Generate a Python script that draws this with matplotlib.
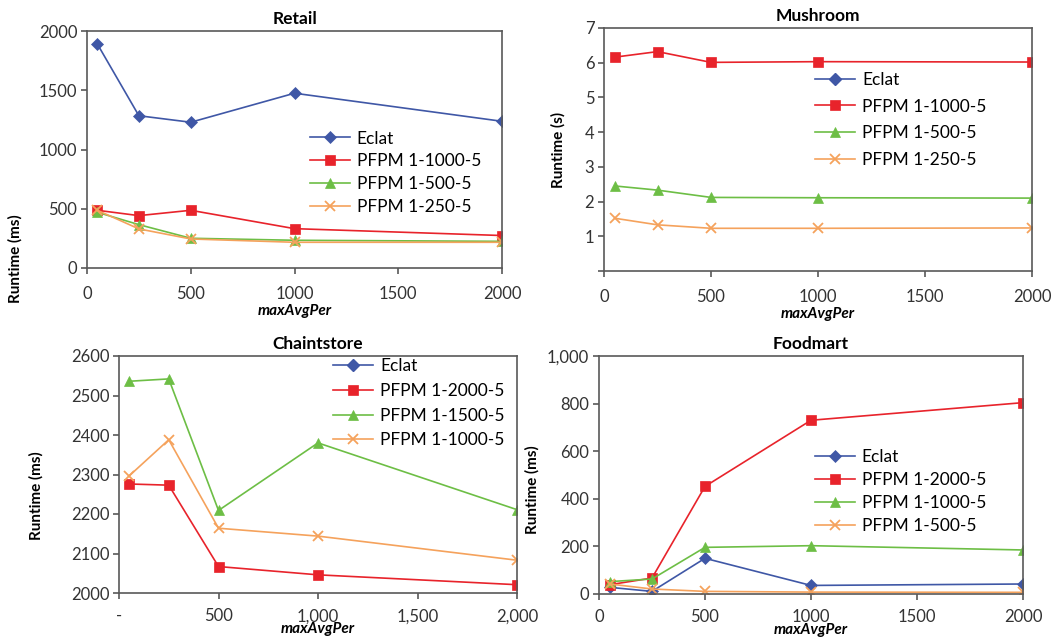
import matplotlib
matplotlib.use('Agg')
import matplotlib.pyplot as plt

plt.rcParams['font.family'] = ['Lato', 'DejaVu Sans']

x = [50, 250, 500, 1000, 2000]

# Retail (ms)
retail_eclat = [1890, 1285, 1230, 1475, 1238]
retail_1000 = [487, 442, 487, 332, 274]
retail_500 = [470, 366, 251, 234, 225]
retail_250 = [487, 330, 245, 217, 217]

# Mushroom (s), Eclat not plotted
mush_1000 = [6.16, 6.32, 6.01, 6.03, 6.02]
mush_500 = [2.45, 2.33, 2.12, 2.11, 2.10]
mush_250 = [1.52, 1.33, 1.23, 1.23, 1.24]

# Chaintstore (ms), Eclat not plotted
chain_2000 = [2276, 2273, 2067, 2046, 2021]
chain_1500 = [2536, 2542, 2209, 2380, 2211]
chain_1000 = [2296, 2388, 2164, 2144, 2083]

# Foodmart (ms)
food_eclat = [28, 11, 150, 36, 42]
food_2000 = [39, 67, 452, 730, 804]
food_1000 = [52, 63, 196, 203, 185]
food_500 = [42, 21, 11, 8, 7]

BLUE = '#3f57a6'
RED = '#e8232b'
GREEN = '#6dbe45'
ORANGE = '#f5a25c'
SPINE = '#595959'

W, H = 1057, 640
fig = plt.figure(figsize=(W / 100, H / 100), dpi=100)


def make_ax(l, r, t, b, xpad=9):
    ax = fig.add_axes([l / W, 1 - b / H, (r - l) / W, (b - t) / H])
    for s in ax.spines.values():
        s.set_color(SPINE)
        s.set_linewidth(1.2)
    ax.tick_params(direction='out', length=4, width=1.2, color=SPINE,
                   labelsize=12, labelcolor='#333333', pad=3)
    ax.tick_params(axis='x', pad=xpad)
    return ax


def series(ax, y, color, marker, ms, label):
    ax.plot(x, y, color=color, marker=marker, markersize=ms, linewidth=1.2,
            label=label, markeredgewidth=1.3 if marker == 'x' else 0.5,
            markeredgecolor=color)


def style(ax, title, ylabel, ylab_pos, legend_pos, spacing, xlpad=1.5):
    ax.set_title(title, fontsize=12.5, fontweight='bold', pad=5)
    ax.set_ylabel(ylabel, fontsize=11, fontweight='bold')
    ax.yaxis.set_label_coords(*ylab_pos)
    ax.set_xlabel('maxAvgPer', fontsize=11, fontweight='bold', style='italic',
                  labelpad=xlpad)
    ax.legend(loc='upper left', bbox_to_anchor=legend_pos, frameon=False,
              fontsize=12.5, borderpad=0, borderaxespad=0, handlelength=2.3,
              handletextpad=0.4, labelspacing=spacing)


# Retail
ax = make_ax(87, 502, 31, 268)
series(ax, retail_eclat, BLUE, 'D', 6, 'Eclat')
series(ax, retail_1000, RED, 's', 7, 'PFPM 1-1000-5')
series(ax, retail_500, GREEN, '^', 7, 'PFPM 1-500-5')
series(ax, retail_250, ORANGE, 'x', 7, 'PFPM 1-250-5')
ax.set_xlim(0, 2000)
ax.set_ylim(0, 2000)
ax.set_xticks([0, 500, 1000, 1500, 2000])
ax.set_yticks([0, 500, 1000, 1500, 2000])
style(ax, 'Retail', 'Runtime (ms)', (-0.155, 0.04), (0.537, 0.58), 0.4)

# Mushroom
ax = make_ax(604, 1032, 28, 271)
ax.plot([], [], color=BLUE, marker='D', markersize=6, linewidth=1.2, label='Eclat')
series(ax, mush_1000, RED, 's', 7, 'PFPM 1-1000-5')
series(ax, mush_500, GREEN, '^', 7, 'PFPM 1-500-5')
series(ax, mush_250, ORANGE, 'x', 7, 'PFPM 1-250-5')
ax.set_xlim(0, 2000)
ax.set_ylim(0, 7)
ax.set_xticks([0, 500, 1000, 1500, 2000])
ax.set_yticks(range(0, 8))
ax.set_yticklabels([''] + [str(v) for v in range(1, 8)])
style(ax, 'Mushroom', 'Runtime (s)', (-0.09, 0.5), (0.493, 0.82), 0.62)

# Chaintstore
ax = make_ax(119, 517, 356, 593, xpad=7)
ax.plot([], [], color=BLUE, marker='D', markersize=6, linewidth=1.2, label='Eclat')
series(ax, chain_2000, RED, 's', 7, 'PFPM 1-2000-5')
series(ax, chain_1500, GREEN, '^', 7, 'PFPM 1-1500-5')
series(ax, chain_1000, ORANGE, 'x', 7, 'PFPM 1-1000-5')
ax.set_xlim(0, 2000)
ax.set_ylim(2000, 2600)
ax.set_xticks([0, 500, 1000, 1500, 2000])
ax.set_xticklabels(['-', '500', '1,000', '1,500', '2,000'])
ax.set_yticks(range(2000, 2601, 100))
style(ax, 'Chaintstore', 'Runtime (ms)', (-0.19, 0.41), (0.538, 0.99), 0.5,
      xlpad=-1.5)

# Foodmart
ax = make_ax(599, 1023, 356, 594, xpad=7)
series(ax, food_eclat, BLUE, 'D', 6, 'Eclat')
series(ax, food_2000, RED, 's', 7, 'PFPM 1-2000-5')
series(ax, food_1000, GREEN, '^', 7, 'PFPM 1-1000-5')
series(ax, food_500, ORANGE, 'x', 7, 'PFPM 1-500-5')
ax.set_xlim(0, 2000)
ax.set_ylim(0, 1000)
ax.set_xticks([0, 500, 1000, 1500, 2000])
ax.set_yticks(range(0, 1001, 200))
ax.set_yticklabels([f'{v:,}' for v in range(0, 1001, 200)])
style(ax, 'Foodmart', 'Runtime (ms)', (-0.14, 0.44), (0.509, 0.61), 0.4,
      xlpad=-1.5)

fig.savefig('out.png', dpi=100)
